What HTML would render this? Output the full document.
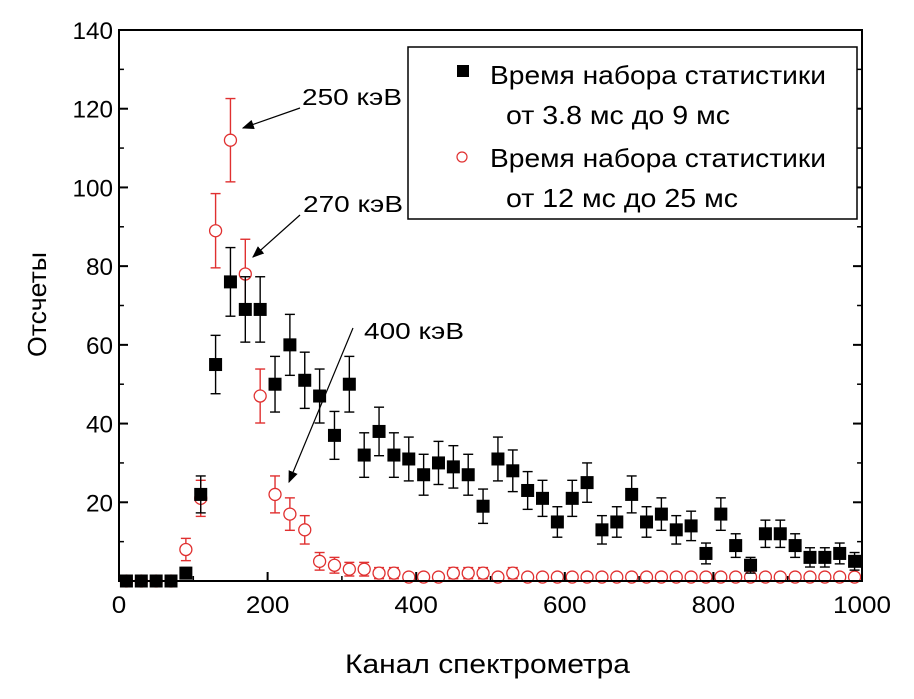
<!DOCTYPE html>
<html><head><meta charset="utf-8"><style>
body{margin:0;background:#fff}
svg text{font-family:"Liberation Sans","DejaVu Sans",sans-serif}
</style></head><body>
<svg id="chart" width="914" height="694" xmlns="http://www.w3.org/2000/svg">
<defs><marker id="ah" markerWidth="10" markerHeight="8" refX="9" refY="4" orient="auto"><path d="M0,0 L10,4 L0,8 z" fill="#000"/></marker></defs>
<g id="marks"></g>
<rect x="119" y="30" width="743" height="551" fill="none" stroke="#000" stroke-width="2"/>
<g id="axes"></g>
<text x="345" y="673" font-size="27" textLength="285" lengthAdjust="spacingAndGlyphs">Канал спектрометра</text>
<text transform="translate(46,357) rotate(-90)" font-size="26" textLength="105" lengthAdjust="spacingAndGlyphs">Отсчеты</text>
<g>
<rect x="408" y="47" width="449" height="172" fill="#fff" stroke="#000" stroke-width="1.5"/>
<rect x="457" y="65" width="12" height="12" fill="#000"/>
<text x="490" y="84" font-size="26" textLength="336" lengthAdjust="spacingAndGlyphs">Время набора статистики</text>
<text x="506" y="124" font-size="26" textLength="224" lengthAdjust="spacingAndGlyphs">от 3.8 мс до 9 мс</text>
<circle cx="462" cy="157" r="5" fill="#fff" stroke="#e03030" stroke-width="1.2"/>
<text x="490" y="167" font-size="26" textLength="336" lengthAdjust="spacingAndGlyphs">Время набора статистики</text>
<text x="506" y="207" font-size="26" textLength="232" lengthAdjust="spacingAndGlyphs">от 12 мс до 25 мс</text>
</g>
<g>
<text x="302" y="105" font-size="23" textLength="100" lengthAdjust="spacingAndGlyphs">250 кэВ</text>
<line x1="300" y1="108" x2="243" y2="128" stroke="#000" stroke-width="1.2" marker-end="url(#ah)"/>
<text x="303" y="212" font-size="23" textLength="100" lengthAdjust="spacingAndGlyphs">270 кэВ</text>
<line x1="300" y1="215" x2="253" y2="257" stroke="#000" stroke-width="1.2" marker-end="url(#ah)"/>
<text x="364" y="339" font-size="23" textLength="100" lengthAdjust="spacingAndGlyphs">400 кэВ</text>
<line x1="353" y1="328" x2="289" y2="482" stroke="#000" stroke-width="1.2" marker-end="url(#ah)"/>
</g>
</svg>
<script>
const channels=[10,30,50,70,90,110,130,150,170,190,210,230,250,270,290,310,330,350,370,390,410,430,450,470,490,510,530,550,570,590,610,630,650,670,690,710,730,750,770,790,810,830,850,870,890,910,930,950,970,990];
const earlyCounts=[0,0,0,0,2,22,55,76,69,69,50,60,51,47,37,50,32,38,32,31,27,30,29,27,19,31,28,23,21,15,21,25,13,15,22,15,17,13,14,7,17,9,4,12,12,9,6,6,7,5];
const lateCounts=[0,0,0,0,8,21,89,112,78,47,22,17,13,5,4,3,3,2,2,1,1,1,2,2,2,1,2,1,1,1,1,1,1,1,1,1,1,1,1,1,1,1,1,1,1,1,1,1,1,1];
const xTicks=[0,200,400,600,800,1000];
const yTicks=[20,40,60,80,100,120,140];
const NS="http://www.w3.org/2000/svg";
const X=v=>119+v*0.743, Y=v=>581-v*551/140;
function mk(t,a,p){const e=document.createElementNS(NS,t);for(const k in a)e.setAttribute(k,a[k]);p.appendChild(e);return e;}
const axes=document.getElementById('axes'), marks=document.getElementById('marks');
xTicks.forEach(v=>{
  const l=mk('line',{x1:X(v),x2:X(v),y1:581,y2:572,stroke:'#000','stroke-width':2},axes);
  
  
  const s=String(v);
  const t=mk('text',{x:X(v),y:613,'font-size':24,'text-anchor':'middle',textLength:s.length*14.5,lengthAdjust:'spacingAndGlyphs'},axes);t.textContent=s;
  
  
  if(v<1000){const m=mk('line',{x1:X(v+100),x2:X(v+100),y1:581,y2:576,stroke:'#000','stroke-width':1.5},axes);
  
  }
});
yTicks.forEach(v=>{
  [[119,128],[862,853]].forEach(([a,b])=>{const l=mk('line',{x1:a,x2:b,y1:Y(v),y2:Y(v),stroke:'#000','stroke-width':2},axes);
  
  
  const m=mk('line',{x1:a,x2:a+(b-a)*0.55,y1:Y(v-10),y2:Y(v-10),stroke:'#000','stroke-width':1.5},axes);
  
  });
  const s=String(v);
  const t=mk('text',{x:113,y:Y(v)+9,'font-size':24,'text-anchor':'end',textLength:s.length*13.5,lengthAdjust:'spacingAndGlyphs'},axes);t.textContent=s;
  
  
});
function errbar(x,v,col){
  if(v<=0)return;const e=Math.max(Math.sqrt(v),0.8);
  const g=mk('g',{stroke:col,'stroke-width':1.4},marks);
  
  
  mk('line',{x1:X(x),x2:X(x),y1:Y(v+e),y2:Y(v-e)},g);
  mk('line',{x1:X(x)-5,x2:X(x)+5,y1:Y(v+e),y2:Y(v+e)},g);
  mk('line',{x1:X(x)-5,x2:X(x)+5,y1:Y(v-e),y2:Y(v-e)},g);
}
channels.forEach((c,i)=>{errbar(c,lateCounts[i],'#e03030');
  const p=mk('circle',{cx:X(c),cy:Y(lateCounts[i]),r:6,fill:'#fff',stroke:'#e03030','stroke-width':1.3},marks);
  
  });
channels.forEach((c,i)=>{errbar(c,earlyCounts[i],'#000');
  const p=mk('rect',{x:X(c)-6.5,y:Y(earlyCounts[i])-6.5,width:13,height:13,fill:'#000'},marks);
  
  });
</script>
</body></html>
